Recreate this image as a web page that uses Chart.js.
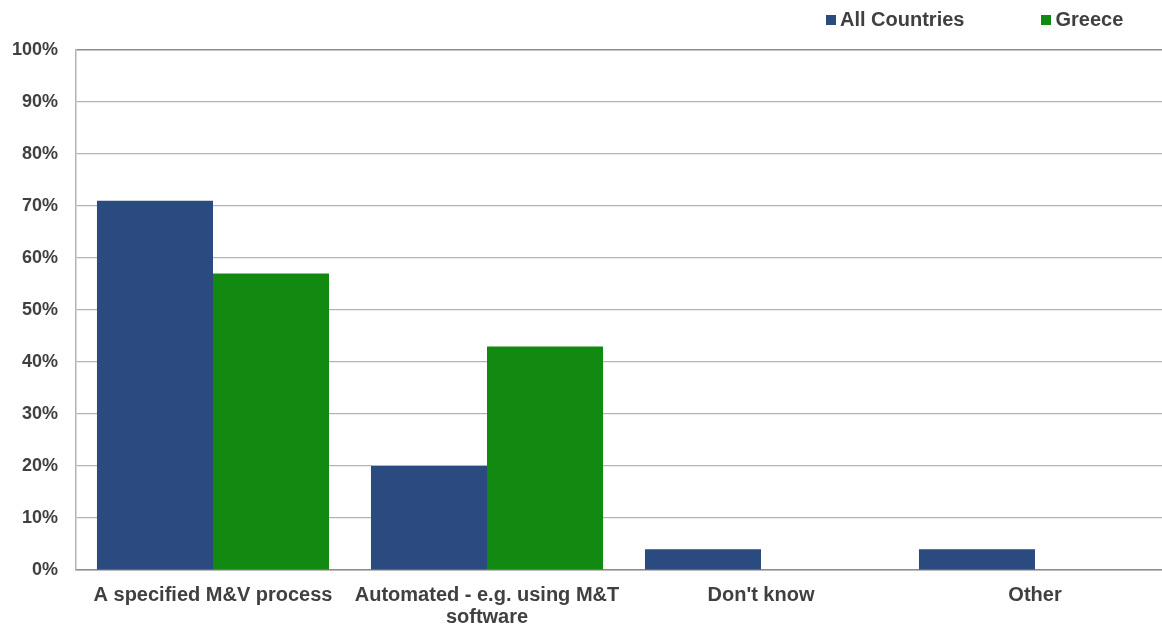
<!DOCTYPE html>
<html>
<head>
<meta charset="utf-8">
<script src="https://cdn.jsdelivr.net/npm/chart.js@4/dist/chart.umd.min.js"></script>
<style>
  html, body { margin: 0; padding: 0; background: #fff; overflow: hidden; }
  #wrap { position: relative; width: 1172px; height: 624px; }
  #legend { position: absolute; top: 8px; left: 826px; display: flex; font: bold 20px "Liberation Sans", Arial, sans-serif; color: #404040; }
  .item { display: flex; align-items: center; }
  .item + .item { margin-left: 77px; }
  .swatch { width: 10px; height: 10px; margin-right: 4px; }
</style>
</head>
<body>
<div id="wrap">
  <canvas id="chart" width="1172" height="624"></canvas>
  <div id="legend"></div>
</div>
<script>
const categories = ['A specified M&V process', ['Automated - e.g. using M&T', 'software'], "Don't know", 'Other'];
const allCountries = [71, 20, 4, 4];
const greece = [57, 43, 0, 0];
const yTicks = [0, 10, 20, 30, 40, 50, 60, 70, 80, 90, 100];

const seriesNames = ['All Countries', 'Greece'];
const seriesColors = ['#2a4a80', '#128a12'];
const textColor = '#404040';
const fontFamily = '"Liberation Sans", Arial, sans-serif';

const chart = new Chart(document.getElementById('chart'), {
  type: 'bar',
  data: {
    labels: categories,
    datasets: [
      { label: seriesNames[0], data: allCountries, backgroundColor: seriesColors[0] },
      { label: seriesNames[1], data: greece, backgroundColor: seriesColors[1] }
    ]
  },
  options: {
    responsive: false,
    animation: false,
    layout: { padding: { top: 50, right: 0, left: 0, bottom: 0 } },
    datasets: { bar: { barPercentage: 1, categoryPercentage: 0.847 } },
    plugins: { legend: { display: false }, tooltip: { enabled: false } },
    scales: {
      x: {
        grid: { display: false, drawTicks: false },
        border: { color: '#8c8c8c', width: 1.5 },
        ticks: { color: textColor, padding: 14, maxRotation: 0, autoSkip: false,
                 font: { family: fontFamily, size: 20, weight: 'bold', lineHeight: 1.1 } },
        afterFit: s => { s.height = 54; }
      },
      y: {
        min: 0, max: 100,
        afterBuildTicks: s => { s.ticks = yTicks.map(v => ({ value: v })); },
        grid: {
          drawTicks: false,
          color: c => c.tick && c.tick.value === 100 ? '#8c8c8c' : '#b4b4b4',
          lineWidth: c => c.tick && c.tick.value === 100 ? 1.5 : 1.2
        },
        border: { color: '#b4b4b4', width: 1.5 },
        ticks: { color: textColor, padding: 18, callback: v => v + '%',
                 font: { family: fontFamily, size: 18, weight: 'bold' } },
        afterFit: s => { s.width = 76; }
      }
    }
  }
});

// HTML legend built from the chart's datasets
const legend = document.getElementById('legend');
chart.data.datasets.forEach(ds => {
  const item = document.createElement('div');
  item.className = 'item';
  const sw = document.createElement('span');
  sw.className = 'swatch';
  sw.style.background = ds.backgroundColor;
  const txt = document.createElement('span');
  txt.textContent = ds.label;
  item.appendChild(sw);
  item.appendChild(txt);
  legend.appendChild(item);
});
</script>
</body>
</html>
